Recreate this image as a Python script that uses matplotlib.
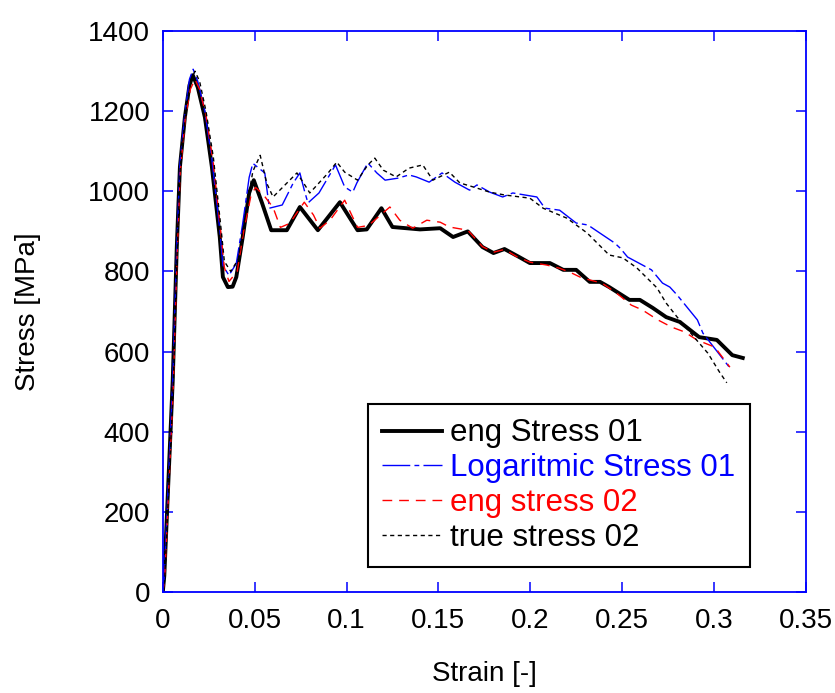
import matplotlib
matplotlib.use('Agg')
import matplotlib.pyplot as plt

plt.rcParams['font.family'] = ['Liberation Sans', 'DejaVu Sans']

# eng Stress 01 (thick black)
strain1 = [0, 0.0008, 0.0054, 0.0076, 0.0093, 0.012, 0.0145, 0.0163, 0.019, 0.0229, 0.0267, 0.031,
           0.0327, 0.0354, 0.038, 0.040, 0.0435, 0.047, 0.0495, 0.054, 0.059, 0.0675, 0.0746,
           0.0844, 0.0964, 0.106, 0.111, 0.119, 0.125, 0.14, 0.151, 0.158, 0.166, 0.174, 0.18,
           0.186, 0.194, 0.1998, 0.2107, 0.218, 0.225, 0.2324, 0.238, 0.243, 0.254, 0.2597,
           0.2667, 0.274, 0.2814, 0.292, 0.3016, 0.310, 0.3157]
stress1 = [0, 40, 529, 861, 1061, 1185, 1265, 1290, 1260, 1185, 1061, 886,
           786, 761, 762, 786, 886, 996, 1028, 971, 903, 903, 961,
           903, 973, 903, 905, 958, 911, 905, 908, 886, 900, 861, 846,
           856, 836, 821, 821, 804, 804, 774, 774, 761, 729, 729,
           709, 686, 674, 636, 629, 591, 584]

# Logaritmic Stress 01 (blue dash-dot)
strain_log = [0, 0.0008, 0.0054, 0.0076, 0.0093, 0.012, 0.0145, 0.0165, 0.019, 0.0229, 0.0267,
              0.031, 0.0327, 0.036, 0.040, 0.0435, 0.047, 0.049, 0.0555, 0.058, 0.065, 0.071,
              0.0746, 0.077, 0.079, 0.085, 0.094, 0.099, 0.1034, 0.1056, 0.1116, 0.1165, 0.121,
              0.128, 0.134, 0.138, 0.145, 0.152, 0.159, 0.167, 0.171, 0.178, 0.185, 0.1905,
              0.2036, 0.208, 0.216, 0.225, 0.2314, 0.2395, 0.246, 0.249, 0.253, 0.266, 0.272,
              0.276, 0.28, 0.291, 0.294, 0.3087]
stress_log = [0, 40, 530, 865, 1070, 1195, 1280, 1305, 1275, 1200, 1080,
              905, 815, 790, 820, 920, 1035, 1070, 1046, 958, 966, 1021,
              1046, 1003, 971, 996, 1066, 1011, 998, 1021, 1071, 1046, 1028,
              1033, 1041, 1036, 1023, 1046, 1023, 1003, 1016, 998, 986, 996,
              986, 958, 953, 921, 916, 891, 871, 858, 836, 804, 771,
              761, 741, 679, 646, 559]

# eng stress 02 (red dashed)
strain2 = [0, 0.001, 0.0056, 0.0078, 0.0095, 0.0122, 0.015, 0.0175, 0.02, 0.0235, 0.0275, 0.0315,
           0.0335, 0.036, 0.0405, 0.044, 0.048, 0.0505, 0.055, 0.06, 0.064, 0.069, 0.077, 0.082,
           0.0855, 0.091, 0.099, 0.106, 0.112, 0.1236, 0.129, 0.136, 0.1437, 0.151, 0.156,
           0.166, 0.174, 0.18, 0.186, 0.193, 0.2, 0.209, 0.216, 0.2226, 0.228, 0.239, 0.247,
           0.255, 0.261, 0.2695, 0.277, 0.284, 0.2907, 0.3005, 0.3087]
stress2 = [0, 30, 500, 840, 1050, 1180, 1255, 1280, 1255, 1190, 1070, 900,
           810, 775, 800, 900, 990, 1010, 990, 960, 910, 920, 973, 941,
           908, 928, 978, 910, 915, 961, 928, 908, 928, 923, 911,
           903, 862, 848, 855, 836, 823, 816, 808, 796, 784, 771, 746,
           716, 704, 679, 661, 649, 629, 611, 561]

# true stress 02 (black dotted)
strain_true = [0, 0.001, 0.0056, 0.0078, 0.0095, 0.0122, 0.015, 0.0175, 0.02, 0.0235, 0.0275,
               0.0315, 0.0335, 0.037, 0.041, 0.0445, 0.049, 0.053, 0.0566, 0.06, 0.073, 0.078,
               0.08, 0.09, 0.0947, 0.099, 0.106, 0.1116, 0.1154, 0.12, 0.127, 0.134, 0.1415,
               0.147, 0.156, 0.1617, 0.169, 0.178, 0.186, 0.1998, 0.207, 0.22, 0.231, 0.236,
               0.243, 0.2504, 0.258, 0.2635, 0.269, 0.274, 0.28, 0.292, 0.2967, 0.303, 0.307]
stress_true = [0, 30, 505, 850, 1060, 1190, 1275, 1300, 1275, 1200, 1085,
               915, 825, 800, 830, 930, 1050, 1090, 1020, 986, 1046, 1011,
               996, 1046, 1073, 1048, 1028, 1066, 1083, 1053, 1036, 1058, 1066,
               1028, 1048, 1021, 1011, 998, 991, 983, 958, 933, 896, 873,
               841, 834, 809, 784, 759, 721, 686, 621, 596, 549, 522]

xticks = [0, 0.05, 0.1, 0.15, 0.2, 0.25, 0.3, 0.35]
xticklabels = ['0', '0.05', '0.1', '0.15', '0.2', '0.25', '0.3', '0.35']
yticks = [0, 200, 400, 600, 800, 1000, 1200, 1400]

fig = plt.figure(figsize=(8.35, 6.93), dpi=100)
ax = fig.add_axes([0.195, 0.146, 0.77, 0.809])

ax.plot(strain1, stress1, color='black', lw=2.8, label='eng Stress 01')
l2, = ax.plot(strain_log, stress_log, color='blue', lw=1, label='Logaritmic Stress 01')
l2.set_dashes([20, 3, 3.5, 3])
l3, = ax.plot(strain2, stress2, color='red', lw=1, label='eng stress 02')
l3.set_dashes([7, 5])
l4, = ax.plot(strain_true, stress_true, color='black', lw=1, label='true stress 02')
l4.set_dashes([3, 2.5])

ax.set_xlim(0, 0.35)
ax.set_ylim(0, 1400)
ax.set_xticks(xticks)
ax.set_xticklabels(xticklabels)
ax.set_yticks(yticks)

for sp in ax.spines.values():
    sp.set_color('blue')
    sp.set_linewidth(1.3)
ax.tick_params(direction='in', length=7, width=1.1, color='blue', labelsize=20,
               top=True, right=True, pad=9)
ax.tick_params(axis='x', pad=12)

ax.set_xlabel('Strain [-]', fontsize=20, labelpad=19)
ax.set_ylabel('Stress [MPa]', fontsize=20, labelpad=34)

leg = ax.legend(loc='lower left', bbox_to_anchor=(0.319, 0.045), fontsize=22.5,
                frameon=True, fancybox=False, framealpha=1, edgecolor='black',
                handlelength=1.93, handletextpad=0.26, labelspacing=0.15,
                borderpad=0.45, borderaxespad=0)
leg.get_frame().set_linewidth(1.5)
for txt, c in zip(leg.get_texts(), ['black', 'blue', 'red', 'black']):
    txt.set_color(c)

plt.savefig('out.png', dpi=100)
